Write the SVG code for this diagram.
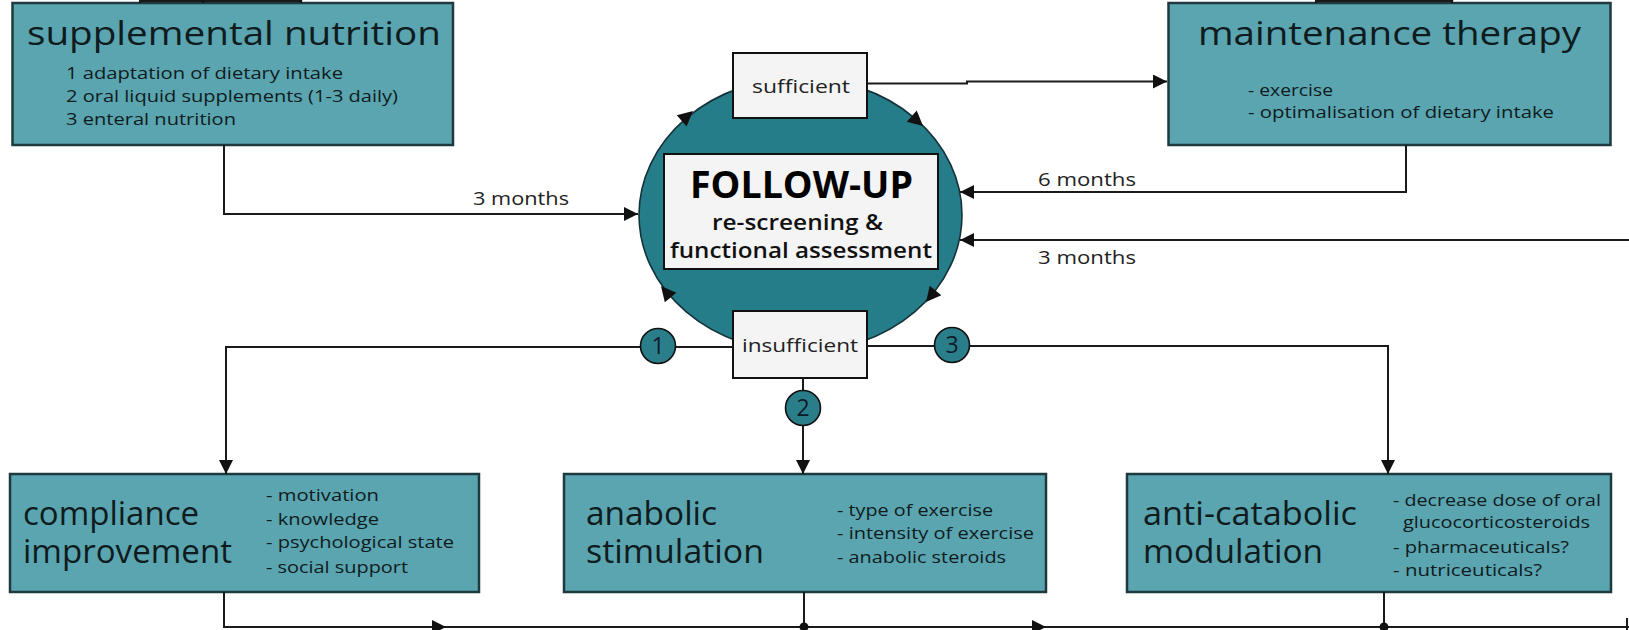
<svg xmlns="http://www.w3.org/2000/svg" xmlns:xlink="http://www.w3.org/1999/xlink" width="1629" height="630" viewBox="0 0 1629 630">
<defs>
<style>
.box{fill:#5aa5b0;stroke:#1f3a3e;stroke-width:2.5}
.wbox{fill:#f4f4f4;stroke:#111;stroke-width:2}
.ln{fill:none;stroke:#1a1a1a;stroke-width:2}
.badge{fill:#2a7e8a;stroke:#111;stroke-width:1.6}
.t{font-family:"Open Sans","Noto Sans",sans-serif;fill:#0f1b1d}
.title{font-size:33px}
.sub{font-size:17px}
.lbl{font-size:19px;fill:#222}
.num{font-size:23px;text-anchor:middle;fill:#0d1a2a}
.big{font-size:38px;font-weight:700;fill:#000}
.mid{font-size:22px;font-weight:600;fill:#111}
</style>
<marker id="ah" viewBox="0 0 14 14" refX="14" refY="7" markerWidth="14" markerHeight="14" markerUnits="userSpaceOnUse" orient="auto">
<path d="M0,0 L14,7 L0,14 z" fill="#111"/>
</marker>
<path id="cah" d="M0,0 L-15,-7.5 L-15,7.5 Z" fill="#111"/>
</defs>

<g id="supplemental-nutrition">
<rect class="box" x="12.5" y="3" width="440.5" height="142"/>
<text class="t title" x="27" y="45" textLength="414" lengthAdjust="spacingAndGlyphs">supplemental nutrition</text>
<text class="t sub" x="66" y="79" textLength="277" lengthAdjust="spacingAndGlyphs">1 adaptation of dietary intake</text>
<text class="t sub" x="66" y="102" textLength="332" lengthAdjust="spacingAndGlyphs">2 oral liquid supplements (1-3 daily)</text>
<text class="t sub" x="66" y="125" textLength="170" lengthAdjust="spacingAndGlyphs">3 enteral nutrition</text>
</g>

<g id="maintenance-therapy">
<rect class="box" x="1168.5" y="3" width="442" height="142"/>
<text class="t title" x="1198" y="45" textLength="383" lengthAdjust="spacingAndGlyphs">maintenance therapy</text>
<text class="t sub" x="1248" y="96" textLength="85" lengthAdjust="spacingAndGlyphs">- exercise</text>
<text class="t sub" x="1248" y="118" textLength="306" lengthAdjust="spacingAndGlyphs">- optimalisation of dietary intake</text>
</g>

<g id="follow-up">
<ellipse cx="800.5" cy="215" rx="161.5" ry="137" fill="#267d8a" stroke="#15323a" stroke-width="1.6"/>
<use xlink:href="#cah" href="#cah" transform="translate(693,111) rotate(-41)"/>
<use xlink:href="#cah" href="#cah" transform="translate(923,126) rotate(41.5)"/>
<use xlink:href="#cah" href="#cah" transform="translate(926,302) rotate(129.5)"/>
<use xlink:href="#cah" href="#cah" transform="translate(661,286) rotate(230.3)"/>
<rect class="wbox" x="664" y="154" width="274" height="115"/>
<text class="t big" x="690" y="198" textLength="223" lengthAdjust="spacingAndGlyphs">FOLLOW-UP</text>
<text class="t mid" x="712" y="230" textLength="171" lengthAdjust="spacingAndGlyphs">re-screening &amp;</text>
<text class="t mid" x="670" y="258" textLength="262" lengthAdjust="spacingAndGlyphs">functional assessment</text>
</g>

<g id="sufficient">
<rect class="wbox" x="733" y="53" width="134" height="65"/>
<text class="t lbl" x="752" y="93" textLength="98" lengthAdjust="spacingAndGlyphs">sufficient</text>
</g>

<g id="insufficient">
<rect class="wbox" x="733" y="311" width="134" height="67"/>
<text class="t lbl" x="742" y="352" textLength="116" lengthAdjust="spacingAndGlyphs">insufficient</text>
</g>

<g id="compliance-improvement">
<rect class="box" x="10" y="474" width="469" height="118"/>
<text class="t title" x="23" y="525" textLength="176" lengthAdjust="spacingAndGlyphs">compliance</text>
<text class="t title" x="23" y="563" textLength="209" lengthAdjust="spacingAndGlyphs">improvement</text>
<text class="t sub" x="266" y="501" textLength="113" lengthAdjust="spacingAndGlyphs">- motivation</text>
<text class="t sub" x="266" y="525" textLength="113" lengthAdjust="spacingAndGlyphs">- knowledge</text>
<text class="t sub" x="266" y="548" textLength="188" lengthAdjust="spacingAndGlyphs">- psychological state</text>
<text class="t sub" x="266" y="573" textLength="142" lengthAdjust="spacingAndGlyphs">- social support</text>
</g>

<g id="anabolic-stimulation">
<rect class="box" x="564" y="474" width="482" height="118"/>
<text class="t title" x="586" y="525" textLength="131" lengthAdjust="spacingAndGlyphs">anabolic</text>
<text class="t title" x="586" y="563" textLength="178" lengthAdjust="spacingAndGlyphs">stimulation</text>
<text class="t sub" x="837" y="516" textLength="156" lengthAdjust="spacingAndGlyphs">- type of exercise</text>
<text class="t sub" x="837" y="539" textLength="197" lengthAdjust="spacingAndGlyphs">- intensity of exercise</text>
<text class="t sub" x="837" y="563" textLength="169" lengthAdjust="spacingAndGlyphs">- anabolic steroids</text>
</g>

<g id="anti-catabolic-modulation">
<rect class="box" x="1127" y="474" width="484" height="118"/>
<text class="t title" x="1143" y="525" textLength="214" lengthAdjust="spacingAndGlyphs">anti-catabolic</text>
<text class="t title" x="1143" y="563" textLength="180" lengthAdjust="spacingAndGlyphs">modulation</text>
<text class="t sub" x="1393" y="506" textLength="208" lengthAdjust="spacingAndGlyphs">- decrease dose of oral</text>
<text class="t sub" x="1403" y="528" textLength="187" lengthAdjust="spacingAndGlyphs">glucocorticosteroids</text>
<text class="t sub" x="1393" y="553" textLength="176" lengthAdjust="spacingAndGlyphs">- pharmaceuticals?</text>
<text class="t sub" x="1393" y="576" textLength="149" lengthAdjust="spacingAndGlyphs">- nutriceuticals?</text>
</g>

<g id="connectors">
<path class="ln" d="M140,3 V1 H301"/>
<path class="ln" d="M203,-20 V3" marker-end="url(#ah)"/>
<path class="ln" d="M301,-20 V3" marker-end="url(#ah)"/>
<path class="ln" d="M1316,3 V1 H1452"/>
<path class="ln" d="M1452,-20 V3" marker-end="url(#ah)"/>
<path class="ln" d="M224,145 V214 H638" marker-end="url(#ah)"/>
<path class="ln" d="M867,83.5 H967 V81.5 H1167" marker-end="url(#ah)"/>
<path class="ln" d="M1406,145 V192 H960" marker-end="url(#ah)"/>
<path class="ln" d="M1629,240 H960" marker-end="url(#ah)"/>
<path class="ln" d="M733,347 H226 V474" marker-end="url(#ah)"/>
<path class="ln" d="M803,378 V474" marker-end="url(#ah)"/>
<path class="ln" d="M867,346 H1388 V474" marker-end="url(#ah)"/>
<path class="ln" d="M224,592 V627 H1629"/>
<path class="ln" d="M804,592 V627"/>
<path class="ln" d="M1384,592 V627"/>
<path class="ln" d="M420,627 H446" marker-end="url(#ah)"/>
<path class="ln" d="M1020,627 H1046" marker-end="url(#ah)"/>
<circle cx="804" cy="627" r="4.5" fill="#111"/>
<circle cx="1384" cy="627" r="4.5" fill="#111"/>
<path class="ln" d="M1627,630 V618" stroke-width="3"/>
<text class="t lbl" x="473" y="205" textLength="96" lengthAdjust="spacingAndGlyphs">3 months</text>
<text class="t lbl" x="1038" y="186" textLength="98" lengthAdjust="spacingAndGlyphs">6 months</text>
<text class="t lbl" x="1038" y="264" textLength="98" lengthAdjust="spacingAndGlyphs">3 months</text>
</g>

<g id="badge-1">
<circle class="badge" cx="658" cy="346" r="17.5"/>
<text class="t num" x="658" y="354">1</text>
</g>
<g id="badge-2">
<circle class="badge" cx="803" cy="408" r="17.5"/>
<text class="t num" x="803" y="416">2</text>
</g>
<g id="badge-3">
<circle class="badge" cx="952" cy="345" r="17.5"/>
<text class="t num" x="952" y="353">3</text>
</g>
</svg>
